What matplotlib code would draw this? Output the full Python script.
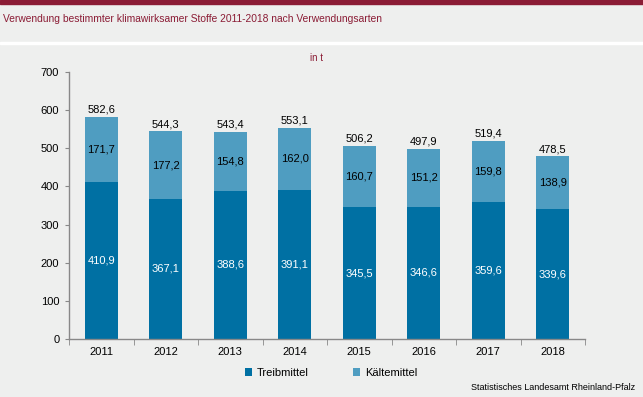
import numpy as np
import matplotlib.pyplot as plt

years = ['2011', '2012', '2013', '2014', '2015', '2016', '2017', '2018']
treibmittel = [410.9, 367.1, 388.6, 391.1, 345.5, 346.6, 359.6, 339.6]
kaeltemittel = [171.7, 177.2, 154.8, 162.0, 160.7, 151.2, 159.8, 138.9]
totals = [582.6, 544.3, 543.4, 553.1, 506.2, 497.9, 519.4, 478.5]

def de(v):
    return f'{v:.1f}'.replace('.', ',')

bg = '#eeefee'
dark = '#0070a3'
light = '#4f9dc1'
red = '#8b1c35'

plt.rcParams['font.family'] = ['Liberation Sans', 'DejaVu Sans']

fig = plt.figure(figsize=(6.43, 3.97), dpi=100, facecolor=bg)
# header band and separator
fig.patches.append(plt.Rectangle((0, 1 - 4/397), 1, 4/397, transform=fig.transFigure, color=red, zorder=0))
fig.patches.append(plt.Rectangle((0, 1 - 44/397), 1, 2/397, transform=fig.transFigure, color='white', zorder=0))
fig.text(3/643, 1 - 19/397, 'Verwendung bestimmter klimawirksamer Stoffe 2011-2018 nach Verwendungsarten',
         color=red, fontsize=7.4, va='center', ha='left')

ax = fig.add_axes([69/643, 1 - 339/397, 516/643, 267/397])
ax.set_facecolor(bg)
x = np.arange(len(years))
w = 0.51
ax.bar(x, treibmittel, w, color=dark, label='Treibmittel', zorder=2)
ax.bar(x, kaeltemittel, w, bottom=treibmittel, color=light, label='Kältemittel', zorder=2)

for i in range(len(years)):
    ax.text(x[i], treibmittel[i] / 2, de(treibmittel[i]), ha='center', va='center', color='white', fontsize=8)
    ax.text(x[i], treibmittel[i] + kaeltemittel[i] / 2, de(kaeltemittel[i]), ha='center', va='center', color='black', fontsize=8)
    ax.text(x[i], totals[i] + 6, de(totals[i]), ha='center', va='bottom', color='black', fontsize=8)

ax.set_xlim(-0.5, len(years) - 0.5)
ax.set_ylim(0, 700)
ax.set_yticks(range(0, 701, 100))
ax.tick_params(axis='y', labelsize=8, length=3, color='#888888', pad=4)
ax.set_xticks(x)
ax.set_xticklabels(years, fontsize=8)
ax.tick_params(axis='x', length=0, pad=6)
ax.set_xticks(np.arange(-0.5, len(years)), minor=True)
ax.tick_params(axis='x', which='minor', length=4, color='#888888')
for s in ['top', 'right']:
    ax.spines[s].set_visible(False)
for s in ['left', 'bottom']:
    ax.spines[s].set_color('#888888')
    ax.spines[s].set_linewidth(1)

fig.text(317/643, 1 - 58/397, 'in t', fontsize=7, ha='center', va='center', color=red)

ax.legend(loc='center', bbox_to_anchor=(331/643, 1 - 373/397), bbox_transform=fig.transFigure,
          ncol=2, frameon=False, fontsize=8, handlelength=0.65, handleheight=0.65,
          columnspacing=4.0, handletextpad=0.4)

fig.text(635/643, 1 - 388/397, 'Statistisches Landesamt Rheinland-Pfalz', fontsize=6.5,
         ha='right', va='center')

fig.savefig('out.png', dpi=100, facecolor=bg)
